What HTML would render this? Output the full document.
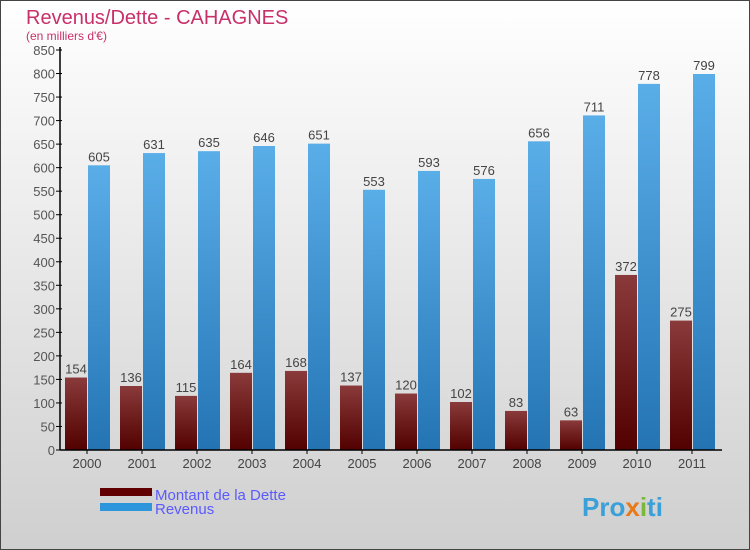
<!DOCTYPE html>
<html><head><meta charset="utf-8"><style>
body{margin:0}
#c{width:750px;height:550px;position:relative;overflow:hidden;font-family:"Liberation Sans",sans-serif;background:linear-gradient(#ffffff,#cfcfcf);}
</style></head><body>
<div id="c">
<svg id="s" width="750" height="550" xmlns="http://www.w3.org/2000/svg">
<defs>
<linearGradient id="gd" x1="0" y1="0" x2="0" y2="1"><stop offset="0" stop-color="#8a3a3a"/><stop offset="1" stop-color="#520000"/></linearGradient>
<linearGradient id="gr" x1="0" y1="0" x2="0" y2="1"><stop offset="0" stop-color="#5aaee8"/><stop offset="1" stop-color="#2474b4"/></linearGradient>
</defs>
<rect x="0.5" y="0.5" width="749" height="549" fill="none" stroke="#444"/>
<text x="26" y="24" font-size="20" fill="#c8306a">Revenus/Dette - CAHAGNES</text>
<text x="26" y="40" font-size="12" fill="#c8306a">(en milliers d'€)</text>
<g id="plot"></g>
<rect x="100" y="488" width="52" height="8" fill="#600000"/>
<rect x="100" y="503" width="52" height="8" fill="#2d95db"/>
<text x="155" y="500" font-size="15" fill="#5a5aff">Montant de la Dette</text>
<text x="155" y="514" font-size="15" fill="#5a5aff">Revenus</text>
<text x="582" y="516" font-size="26" font-weight="bold" fill="#3aa0d8">Pro<tspan fill="#e87a1a">x</tspan><tspan fill="#7ab83a">i</tspan>ti</text>
</svg></div>
<script>
const years=["2000","2001","2002","2003","2004","2005","2006","2007","2008","2009","2010","2011"];
const dette=[154,136,115,164,168,137,120,102,83,63,372,275];
const revenus=[605,631,635,646,651,553,593,576,656,711,778,799];
const yTicks=[0,50,100,150,200,250,300,350,400,450,500,550,600,650,700,750,800,850];
const NS="http://www.w3.org/2000/svg";
const g=document.getElementById('plot');
const x0=60,y0=450,yTop=50,vmax=850,step=55;
const Y=v=>y0-(y0-yTop)*v/vmax;
const X=i=>x0+27+i*step;
function mk(t,a){const e=document.createElementNS(NS,t);for(const k in a)e.setAttribute(k,a[k]);g.appendChild(e);return e;}
yTicks.forEach(v=>{
 const l=mk('line',{x1:x0-4,x2:x0+722-x0-660,y1:Y(v),y2:Y(v),stroke:'#000'});
 l.setAttribute('x2',x0+2);
 
 
 const t=mk('text',{x:x0-5,y:Y(v)+5,'font-size':13,fill:'#555','text-anchor':'end'});
 t.textContent=v;
 
 
});
years.forEach((yr,i)=>{
 const cx=X(i);
 const d=mk('rect',{x:cx-22,y:Y(dette[i]),width:22,height:y0-Y(dette[i]),fill:'url(#gd)'});
 
 
 const r=mk('rect',{x:cx+1,y:Y(revenus[i]),width:22,height:y0-Y(revenus[i]),fill:'url(#gr)'});
 
 
 const dl=mk('text',{x:cx-11,y:Y(dette[i])-4,'font-size':13,fill:'#444','text-anchor':'middle'});
 dl.textContent=dette[i];
 
 
 const rl=mk('text',{x:cx+12,y:Y(revenus[i])-4,'font-size':13,fill:'#444','text-anchor':'middle'});
 rl.textContent=revenus[i];
 
 
 const tk=mk('line',{x1:cx,x2:cx,y1:y0,y2:y0+4,stroke:'#000'});
 
 
 const xl=mk('text',{x:cx,y:y0+18,'font-size':13,fill:'#444','text-anchor':'middle'});
 xl.textContent=yr;
 
 
});
const ya=mk('line',{x1:x0,x2:x0,y1:yTop-3,y2:y0,stroke:'#000','stroke-width':1.5});


const xa=mk('line',{x1:x0,x2:722,y1:y0,y2:y0,stroke:'#000','stroke-width':1.5});


</script>
</body></html>
